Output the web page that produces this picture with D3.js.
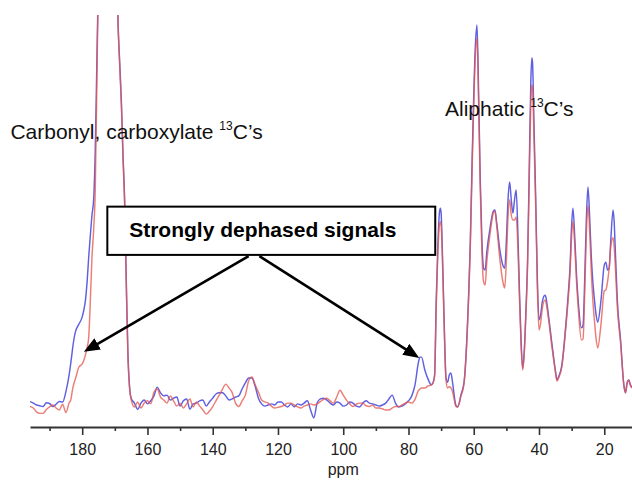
<!DOCTYPE html>
<html>
<head>
<meta charset="utf-8">
<script src="https://cdn.jsdelivr.net/npm/d3@7/dist/d3.min.js"></script>
<style>
body { margin: 0; background: #fff; }
svg { display: block; font-family: "Liberation Sans", Arial, Helvetica, sans-serif; }
</style>
</head>
<body>
<div id="chart"></div>
<script>
// chemical shift (ppm) of every sample point, high to low
var ppm = [
  196, 195, 194, 193, 192, 191, 190, 189, 188, 187, 186, 185, 184, 183.5, 183, 182.5, 182, 181.5, 181, 180,
  179.5, 179, 178.5, 178, 177.5, 177, 176.5, 176, 175.5, 175,
  174, 173, 172, 171, 170, 169.5, 169, 168.5, 168, 167.5, 167, 166.5, 166, 165.5,
  165, 164, 163, 162, 161, 160, 159, 158, 157, 156, 155, 154, 153, 152, 151, 150, 149, 148, 147, 146,
  145, 144, 143, 142, 141, 140, 139, 138, 137, 136, 135, 134, 133, 132, 131, 130, 129, 128, 127, 126,
  125, 124, 123, 122, 121, 120, 119, 118, 117, 116, 115, 114, 113, 112, 111, 110, 109, 108, 107, 106,
  105, 104, 103, 102, 101, 100, 99, 98, 97, 96, 95, 94, 93, 92, 91, 90, 89, 88, 87, 86,
  85, 84, 83, 82, 81, 80,
  79, 78, 77, 76.5, 76, 75, 74, 73, 72.5, 72, 71.5, 71, 70.5, 70.2, 70, 69.5, 69, 68.5, 68, 67.5,
  67, 66.5, 66, 65.5, 65, 64.5, 64, 63, 62, 61, 60.5, 60, 59.5, 59, 58.5, 58, 57.5, 57, 56.5, 56,
  55, 54, 53.5, 53, 52, 51, 50.5, 50, 49.5, 49, 48.5, 48, 47.5, 47, 46.5, 46, 45.5, 45, 44.5, 44,
  43.5, 43, 42.5, 42.2, 42, 41.5, 41, 40.5, 40, 39.5, 39, 38.2, 38, 37, 36, 35, 34.5, 34, 33, 32,
  31, 30.5, 30, 29.6, 29, 28.5, 28, 27, 26.5, 26, 25.5, 25, 24.5, 24, 23.5, 23, 22.5, 22, 21, 20,
  19.5, 19, 18.5, 18, 17.3, 17, 16.5, 16, 15, 14, 13.5, 13, 12.5, 12, 11.5
];

// blue trace (reference spectrum), relative intensity
var blueSignal = [
  0.9, 0.5, 0, -0.2, -0.4, 0.6, 0.4, -0.4, 0.2, 0.9, 0.8, 3.5, 8, 11, 14.5, 17.5, 19.5, 20.5, 21.3, 23.2,
  25, 27.6, 32.4, 39, 44.7, 50, 54, 67, 90.8, 114,
  150, 175, 180, 170, 140, 118, 100, 90, 80, 66, 54, 33, 14, 5,
  1.8, 0.5, -1.1, 0.5, 1.3, 0.3, 1.1, 2.4, 4.7, 3.2, 2.4, 2.6, 1.3, 1.8, 2.1, -0.3, 1.1, 1.6, -1.1, 0.3,
  0.5, 1.1, 1.3, -0.3, 0.8, 1.8, 2.9, 3.2, 3.2, 2.4, 1.3, 1.6, 2.1, 2.4, 4.2, 5.8, 7.1, 7.1, 5, 1.8,
  0.3, -0.3, 0, 0.3, 0, 0.8, 0.8, 0, -0.5, 0.3, -0.5, 0.3, 0, 0.5, 1.1, -1.3, -3.4, 0.5, 1.6, 1.8,
  1.3, 0.5, 0, 0.8, 0.5, -0.3, 0, 0.8, 0.5, -0.3, -0.5, 0.5, 1.1, 0.5, 0.3, 0, -0.3, 0, 0.5, 1.6,
  2.6, 0.5, -0.5, -0.3, 0.3, 1.1,
  2.4, 5.3, 11, 12.6, 12.6, 9.2, 6.8, 5.3, 5.8, 7.9, 27.6, 42, 50.8, 51.8, 50.5, 36.8, 19.7, 7.1, 6, 7.9,
  8.4, 6, 2.6, 0, -0.5, 0.3, 2.4, 5.8, 19.7, 45, 64.5, 81.6, 94.7, 100, 81.6, 59.2, 43.4, 36, 35.5, 40.3,
  46.6, 51, 51.3, 48.2, 40.8, 36.6, 36, 43.4, 54, 58.7, 54, 50.5, 54, 56.6, 46, 30.3, 17.1, 9.7, 14.5, 25,
  38.2, 61.8, 85.5, 91.3, 90.3, 72.4, 54, 32.9, 22.4, 23.7, 27.1, 28.9, 28.7, 22.9, 15.8, 9.2, 6.6, 7.4, 10.5, 18.9,
  29.7, 36.3, 47.4, 51.8, 43.4, 34.2, 27.6, 20.3, 21, 32.9, 48.7, 57.4, 50, 39.5, 32.4, 27.6, 23.7, 21.8, 27.6, 36.8,
  37.6, 35.5, 36, 43.4, 51.3, 48.7, 38.2, 27.6, 17.1, 5.3, 3.2, 5.8, 6.6, 5.3, 4.5
];

// red trace (dephased spectrum), relative intensity
var redSignal = [
  -0.4, -0.8, -1.8, -2.2, -2.2, -1.2, -0.5, 0, -0.8, -1.3, 0.2, -2, 0.6, 1.3, 3.9, 5.8, 7.1, 8.7, 10, 10.8,
  11.8, 13.2, 15, 17.9, 27.6, 39, 46, 56.6, 85.5, 114,
  150, 175, 180, 170, 140, 118, 100, 89, 79, 65, 53, 32, 13, 4.5,
  1.5, -0.5, 0.8, -0.8, 0.5, 1.1, 0.3, 3.4, 4.2, 2.1, 1.3, 0.5, 2.4, 1.1, -0.3, 0.5, -0.8, 0.3, 1.6, -0.5,
  0.8, -0.3, -1.3, -2.4, -1.6, -0.4, 1.1, 2.6, 4.2, 5.5, 4.5, 3.2, 0.5, -0.4, 1.1, 2.6, 6.3, 7.4, 5.3, 3.4,
  1.3, 0.8, 0.5, -0.3, -0.8, -0.6, -0.4, 0, 0.5, 0.5, 0, -0.5, -0.8, -0.3, 0, 0.3, 0, 0.3, 0.9, 1.5,
  1.8, 1.1, 0.5, 2.1, 3.9, 2.6, 1.3, 0.3, -0.4, 0.2, 0.5, 0.5, -0.2, -0.4, 0, -0.8, -0.8, -1, -1.3, -1.3,
  -0.8, -0.4, -0.4, 0, 0.5, 0.8,
  0.5, 1.5, 3.7, 4.2, 4.5, 4.5, 5, 5.3, 5.8, 7.5, 26, 40, 47.5, 48.2, 47.4, 35, 18.5, 6.5, 4.5, 4.8,
  4.5, 3.5, 1.5, -0.3, -0.5, 0.3, 2.1, 5.5, 18.9, 43.4, 62, 78.9, 91.8, 96.6, 79, 56.6, 40.3, 32.5, 31.6, 37.6,
  45, 50.5, 51, 47.4, 38.4, 32.1, 30.8, 38.2, 49.5, 54, 50, 48.7, 48.7, 49.5, 42.1, 28.4, 15.8, 9.2, 13.9, 24.2,
  36.8, 58.9, 80, 84.2, 83.7, 68.9, 51.8, 30.8, 19.7, 21.6, 25.3, 27.6, 27.4, 22.1, 15, 8.9, 6.3, 7.1, 10, 18.2,
  28.4, 34.5, 44.7, 48.2, 41.1, 32.4, 25.8, 17.1, 17.4, 29.2, 44.7, 52.6, 46.3, 35.5, 27.6, 22.1, 17.4, 15, 21.3, 30,
  30.3, 32.4, 36, 41.8, 44, 42, 34.7, 25.8, 16.3, 5.3, 3.2, 5.8, 6.6, 5.3, 4.5
];

var majorTicks = [180, 160, 140, 120, 100, 80, 60, 40, 20];
var minorTicks = [190, 170, 150, 130, 110, 90, 70, 50, 30];

// annotations, placed in data units (ppm, intensity)
var carbonylLabel = {ppm: 202, level: 70, text: "Carbonyl, carboxylate ", sup: "13", tail: "C\u2019s"};
var aliphaticLabel = {ppm: 68.8, level: 76, text: "Aliphatic ", sup: "13", tail: "C\u2019s"};
var calloutBox = {ppm: [172.3, 71.8], level: [52.2, 39.5], textPpm: 165.6, textLevel: 44.2,
                  text: "Strongly dephased signals"};
var arrows = [
  {from: [129, 39.2], to: [179.5, 14]},
  {from: [125.7, 39.2], to: [76.7, 12.4]}
];

var width = 632, height = 481,
    axisY = 427;

var svg = d3.select("#chart").append("svg")
    .attr("width", width)
    .attr("height", height);

var x = d3.scaleLinear().domain([196, 11.5]).range([30, 632]);
var y = d3.scaleLinear().domain([0, 100]).range([405, 25]);

svg.append("defs").append("clipPath")
    .attr("id", "plotclip")
  .append("rect")
    .attr("x", 30).attr("y", 15)
    .attr("width", 602).attr("height", height - 15);

svg.select("defs").append("marker")
    .attr("id", "head")
    .attr("markerUnits", "userSpaceOnUse")
    .attr("viewBox", "0 -7 17 14")
    .attr("markerWidth", 17).attr("markerHeight", 14)
    .attr("refX", 2).attr("refY", 0)
    .attr("orient", "auto")
  .append("path")
    .attr("d", "M0,-6.5L16,0L0,6.5Z")
    .attr("fill", "#000");

var line = function(vals) {
  return d3.line()
    .x(function(d, i) { return x(ppm[i]); })
    .y(function(d) { return y(d); })
    .curve(d3.curveMonotoneX)(vals);
};

var plot = svg.append("g").attr("clip-path", "url(#plotclip)");

plot.append("path")
    .attr("d", line(blueSignal))
    .attr("fill", "none")
    .attr("stroke", "#5f5fe2")
    .attr("stroke-width", 1.45);

plot.append("path")
    .attr("d", line(redSignal))
    .attr("fill", "none")
    .attr("stroke", "#e6584e")
    .attr("stroke-opacity", 0.78)
    .attr("stroke-width", 1.45);

// axis: labelled major ticks and short minor ticks
var xAxis = svg.append("g")
    .attr("transform", "translate(0," + axisY + ")")
    .call(d3.axisBottom(x).tickValues(majorTicks).tickSize(8).tickSizeOuter(0).tickPadding(9));
xAxis.select(".domain").attr("stroke", "#333").attr("stroke-width", 2);
xAxis.selectAll(".tick line").attr("stroke", "#333").attr("stroke-width", 1.6);
xAxis.selectAll(".tick text")
    .attr("fill", "#222")
    .style("font-size", "16px")
    .style("font-family", "'Liberation Sans', Arial, sans-serif");

var minor = svg.append("g")
    .attr("transform", "translate(0," + axisY + ")")
    .call(d3.axisBottom(x).tickValues(minorTicks).tickSize(4).tickSizeOuter(0).tickFormat(""));
minor.select(".domain").remove();
minor.selectAll(".tick line").attr("stroke", "#333").attr("stroke-width", 1.6);

svg.append("text")
    .attr("x", x(100))
    .attr("y", 475)
    .attr("text-anchor", "middle")
    .attr("fill", "#222")
    .style("font-size", "16px")
    .text("ppm");

// region labels
[carbonylLabel, aliphaticLabel].forEach(function(l) {
  var t = svg.append("text")
      .attr("x", x(l.ppm))
      .attr("y", y(l.level))
      .attr("fill", "#111")
      .style("font-size", "21px");
  t.append("tspan").text(l.text);
  t.append("tspan").attr("dy", -9).style("font-size", "12px").text(l.sup);
  t.append("tspan").attr("dy", 9).text(l.tail);
});

// callout box with arrows
svg.append("rect")
    .attr("x", x(calloutBox.ppm[0]))
    .attr("y", y(calloutBox.level[0]))
    .attr("width", x(calloutBox.ppm[1]) - x(calloutBox.ppm[0]))
    .attr("height", y(calloutBox.level[1]) - y(calloutBox.level[0]))
    .attr("fill", "#fff")
    .attr("stroke", "#000")
    .attr("stroke-width", 2);

svg.append("text")
    .attr("x", x(calloutBox.textPpm))
    .attr("y", y(calloutBox.textLevel))
    .attr("fill", "#000")
    .style("font-size", "21px")
    .style("font-weight", "bold")
    .text(calloutBox.text);

arrows.forEach(function(a) {
  var x0 = x(a.from[0]), y0 = y(a.from[1]),
      x1 = x(a.to[0]), y1 = y(a.to[1]);
  var len = Math.sqrt((x1 - x0) * (x1 - x0) + (y1 - y0) * (y1 - y0));
  var back = 14 / len;
  svg.append("line")
      .attr("x1", x0).attr("y1", y0)
      .attr("x2", x1 - (x1 - x0) * back)
      .attr("y2", y1 - (y1 - y0) * back)
      .attr("stroke", "#000")
      .attr("stroke-width", 2.6)
      .attr("marker-end", "url(#head)");
});
</script>
</body>
</html>
